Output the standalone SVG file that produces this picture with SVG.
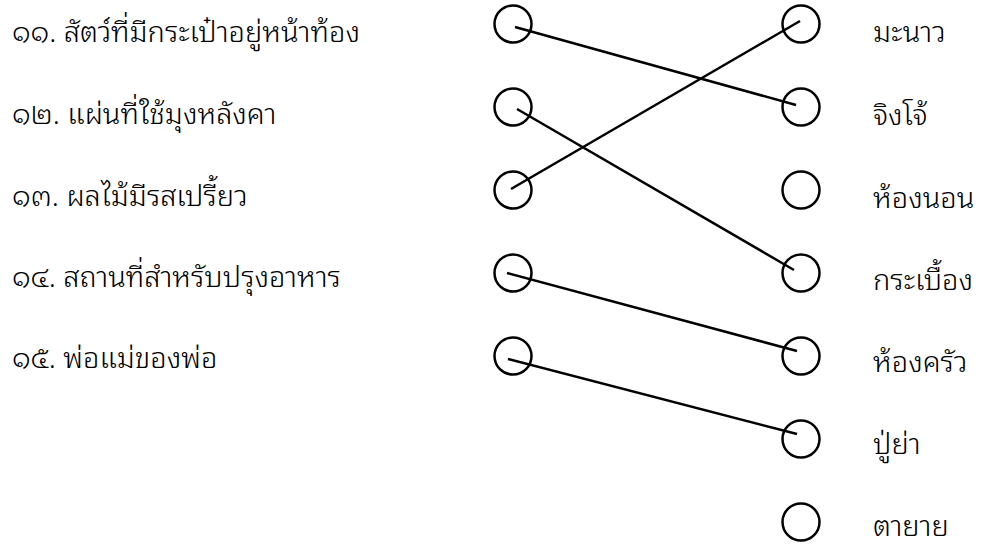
<svg xmlns="http://www.w3.org/2000/svg" width="990" height="547" viewBox="0 0 990 547">
<style>
.t{font-family:"Noto Sans Thai Looped","Noto Sans Thai","Noto Sans","DejaVu Sans",sans-serif;font-size:29px;font-weight:300;fill:#000}
.c{fill:none;stroke:#000;stroke-width:2.5}
.l{stroke:#000;stroke-width:2.5;stroke-linecap:butt}
</style>
<rect width="990" height="547" fill="#fff"/>
<g id="q11"><text class="t" x="12" y="42">๑๑. สัตว์ที่มีกระเป๋าอยู่หน้าท้อง</text><circle class="c" cx="513" cy="24" r="18.5"/></g>
<g id="q12"><text class="t" x="12" y="124">๑๒. แผ่นที่ใช้มุงหลังคา</text><circle class="c" cx="513" cy="107" r="18.5"/></g>
<g id="q13"><text class="t" x="12" y="206">๑๓. ผลไม้มีรสเปรี้ยว</text><circle class="c" cx="513" cy="190" r="18.5"/></g>
<g id="q14"><text class="t" x="12" y="287">๑๔. สถานที่สำหรับปรุงอาหาร</text><circle class="c" cx="513" cy="273" r="18.5"/></g>
<g id="q15"><text class="t" x="12" y="368">๑๕. พ่อแม่ของพ่อ</text><circle class="c" cx="513" cy="356" r="18.5"/></g>
<g id="a1"><circle class="c" cx="801" cy="24" r="18.5"/><text class="t" x="873" y="42">มะนาว</text></g>
<g id="a2"><circle class="c" cx="801" cy="107" r="18.5"/><text class="t" x="873" y="125">จิงโจ้</text></g>
<g id="a3"><circle class="c" cx="801" cy="190" r="18.5"/><text class="t" x="873" y="208">ห้องนอน</text></g>
<g id="a4"><circle class="c" cx="801" cy="273" r="18.5"/><text class="t" x="873" y="290">กระเบื้อง</text></g>
<g id="a5"><circle class="c" cx="801" cy="356" r="18.5"/><text class="t" x="873" y="372">ห้องครัว</text></g>
<g id="a6"><circle class="c" cx="801" cy="439" r="18.5"/><text class="t" x="873" y="454">ปู่ย่า</text></g>
<g id="a7"><circle class="c" cx="801" cy="522" r="18.5"/><text class="t" x="873" y="536">ตายาย</text></g>
<g id="connectors">
<line class="l" x1="515" y1="27" x2="796" y2="105"/>
<line class="l" x1="517" y1="109" x2="794" y2="270"/>
<line class="l" x1="511" y1="189" x2="800" y2="21"/>
<line class="l" x1="507" y1="273" x2="797" y2="351"/>
<line class="l" x1="508" y1="359" x2="797" y2="434"/>
</g>
</svg>
